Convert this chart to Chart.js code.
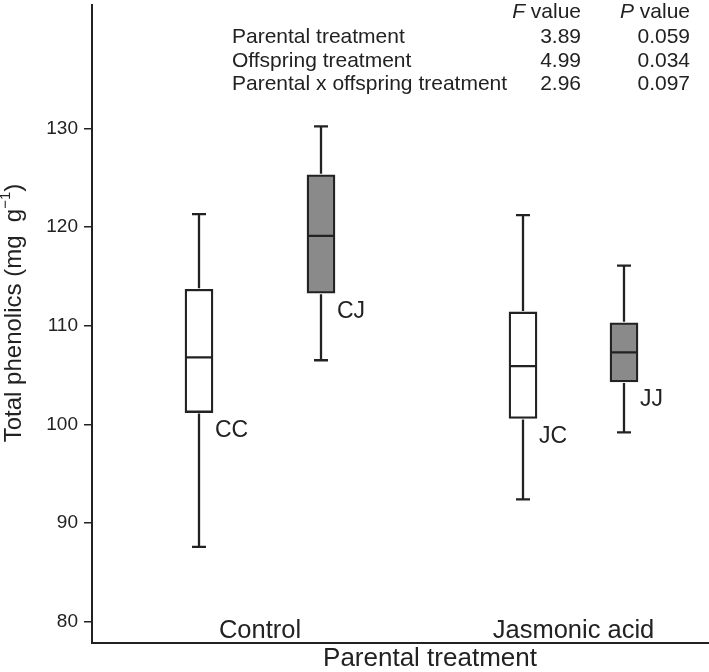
<!DOCTYPE html>
<html>
<head>
<meta charset="utf-8">
<script src="https://cdn.jsdelivr.net/npm/chart.js@4.4.1/dist/chart.umd.min.js"></script>
<style>
  html, body { margin: 0; padding: 0; background: #fff; }
  #wrap { width: 709px; height: 672px; }
</style>
</head>
<body>
<div id="wrap"><canvas id="chart"></canvas></div>
<script>
var groups      = ['CC', 'CJ', 'JC', 'JJ'];
var whiskerLow  = [87.6, 106.5, 92.4, 99.2];
var q1          = [101.2, 113.3, 100.6, 104.3];
var median      = [106.8, 119.1, 105.9, 107.3];
var q3          = [113.7, 125.3, 111.4, 110.3];
var whiskerHigh = [121.3, 130.2, 121.2, 116.1];
var parentLabels = ['Control', 'Jasmonic acid'];
var yTicks = [80, 90, 100, 110, 120, 130];
var statRows = ['Parental treatment', 'Offspring treatment', 'Parental x offspring treatment'];
var fValues  = ['3.89', '4.99', '2.96'];
var pValues  = ['0.059', '0.034', '0.097'];

// layout only
var xPos = [1.07, 2.29, 4.31, 5.32];
var boxFill = ['#ffffff', '#8a8a8a', '#ffffff', '#8a8a8a'];
var INK = '#222';
var FONT = '"Liberation Sans", Arial, sans-serif';

var boxExtras = {
    id: 'boxExtras',
    afterDatasetsDraw: function(chart) {
        var ctx = chart.ctx, x = chart.scales.x, y = chart.scales.y;
        var area = chart.chartArea;
        ctx.save();
        ctx.strokeStyle = INK;
        ctx.lineWidth = 2.3;
        ctx.lineCap = 'butt';
        for (var i = 0; i < groups.length; i++) {
            var px = x.getPixelForValue(xPos[i]);
            var yHi = y.getPixelForValue(whiskerHigh[i]);
            var yQ3 = y.getPixelForValue(q3[i]);
            var yQ1 = y.getPixelForValue(q1[i]);
            var yLo = y.getPixelForValue(whiskerLow[i]);
            var yMd = y.getPixelForValue(median[i]);
            ctx.beginPath();
            ctx.moveTo(px, yHi); ctx.lineTo(px, yQ3 - 1);
            ctx.moveTo(px, yQ1 + 1); ctx.lineTo(px, yLo);
            ctx.moveTo(px - 7, yHi); ctx.lineTo(px + 7, yHi);
            ctx.moveTo(px - 7, yLo); ctx.lineTo(px + 7, yLo);
            ctx.moveTo(px - 14, yMd); ctx.lineTo(px + 14, yMd);
            ctx.stroke();

            ctx.fillStyle = INK;
            ctx.font = '23px ' + FONT;
            ctx.textAlign = 'left';
            ctx.textBaseline = 'middle';
            ctx.fillText(groups[i], px + 16, yQ1 + 18);
        }

        // parental group labels
        ctx.font = '25.5px ' + FONT;
        ctx.textAlign = 'center';
        ctx.textBaseline = 'middle';
        ctx.fillText(parentLabels[0], x.getPixelForValue((xPos[0] + xPos[1]) / 2), area.bottom - 12);
        ctx.fillText(parentLabels[1], x.getPixelForValue((xPos[2] + xPos[3]) / 2), area.bottom - 12);

        // stats table
        ctx.font = '21px ' + FONT;
        ctx.textBaseline = 'middle';
        var rowY = [37, 61, 84];
        for (var r = 0; r < statRows.length; r++) {
            ctx.textAlign = 'left';
            ctx.fillText(statRows[r], 232, rowY[r]);
            ctx.textAlign = 'right';
            ctx.fillText(fValues[r], 581, rowY[r]);
            ctx.fillText(pValues[r], 690, rowY[r]);
        }
        // header with italic letters
        ctx.textAlign = 'right';
        ctx.fillText(' value', 581, 12);
        var w1 = ctx.measureText(' value').width;
        ctx.fillText(' value', 690, 12);
        ctx.font = 'italic 21px ' + FONT;
        ctx.fillText('F', 581 - w1, 12);
        ctx.fillText('P', 690 - w1, 12);

        // x title
        ctx.font = '26px ' + FONT;
        ctx.textAlign = 'center';
        ctx.fillText('Parental treatment', 430, 659);

        // y title with superscript
        ctx.translate(14, 313);
        ctx.rotate(-Math.PI / 2);
        var main = 'Total phenolics (mg  g';
        ctx.font = '24px ' + FONT;
        var wMain = ctx.measureText(main).width;
        ctx.font = '15px ' + FONT;
        var wSup = ctx.measureText('\u22121').width;
        ctx.font = '24px ' + FONT;
        var wEnd = ctx.measureText(')').width;
        var start = -(wMain + wSup + wEnd) / 2;
        ctx.textAlign = 'left';
        ctx.fillText(main, start, 0);
        ctx.font = '15px ' + FONT;
        ctx.fillText('\u22121', start + wMain, -8);
        ctx.font = '24px ' + FONT;
        ctx.fillText(')', start + wMain + wSup, 0);
        ctx.restore();
    }
};

new Chart(document.getElementById('chart'), {
    type: 'bar',
    data: {
        datasets: [{
            data: groups.map(function(g, i) { return { x: xPos[i], y: [q1[i], q3[i]] }; }),
            backgroundColor: boxFill,
            borderColor: INK,
            borderWidth: 2.3,
            borderSkipped: false,
            barThickness: 28
        }]
    },
    options: {
        responsive: true, maintainAspectRatio: false,
        animation: false,
        layout: { padding: { top: 5, right: 0, bottom: 0, left: 0 } },
        plugins: { legend: { display: false }, tooltip: { enabled: false } },
        scales: {
            x: {
                type: 'linear', min: 0, max: 6.17, offset: false,
                ticks: { display: false },
                grid: { display: false, drawTicks: false },
                border: { display: true, color: INK, width: 2 },
                afterFit: function(s) { s.height = 29; s.paddingLeft = 0; s.paddingRight = 0; }
            },
            y: {
                min: 77.85, max: 142.5,
                afterBuildTicks: function(s) { s.ticks = yTicks.map(function(v) { return { value: v }; }); },
                ticks: { color: INK, font: { family: FONT, size: 19 }, padding: 6 },
                grid: { display: true, drawOnChartArea: false, drawTicks: true, tickLength: 8, color: INK, lineWidth: 1.5 },
                border: { display: true, color: INK, width: 2 },
                afterFit: function(s) { s.width = 92; s.paddingTop = 0; s.paddingBottom = 0; }
            }
        }
    },
    plugins: [boxExtras]
});
</script>
</body>
</html>
